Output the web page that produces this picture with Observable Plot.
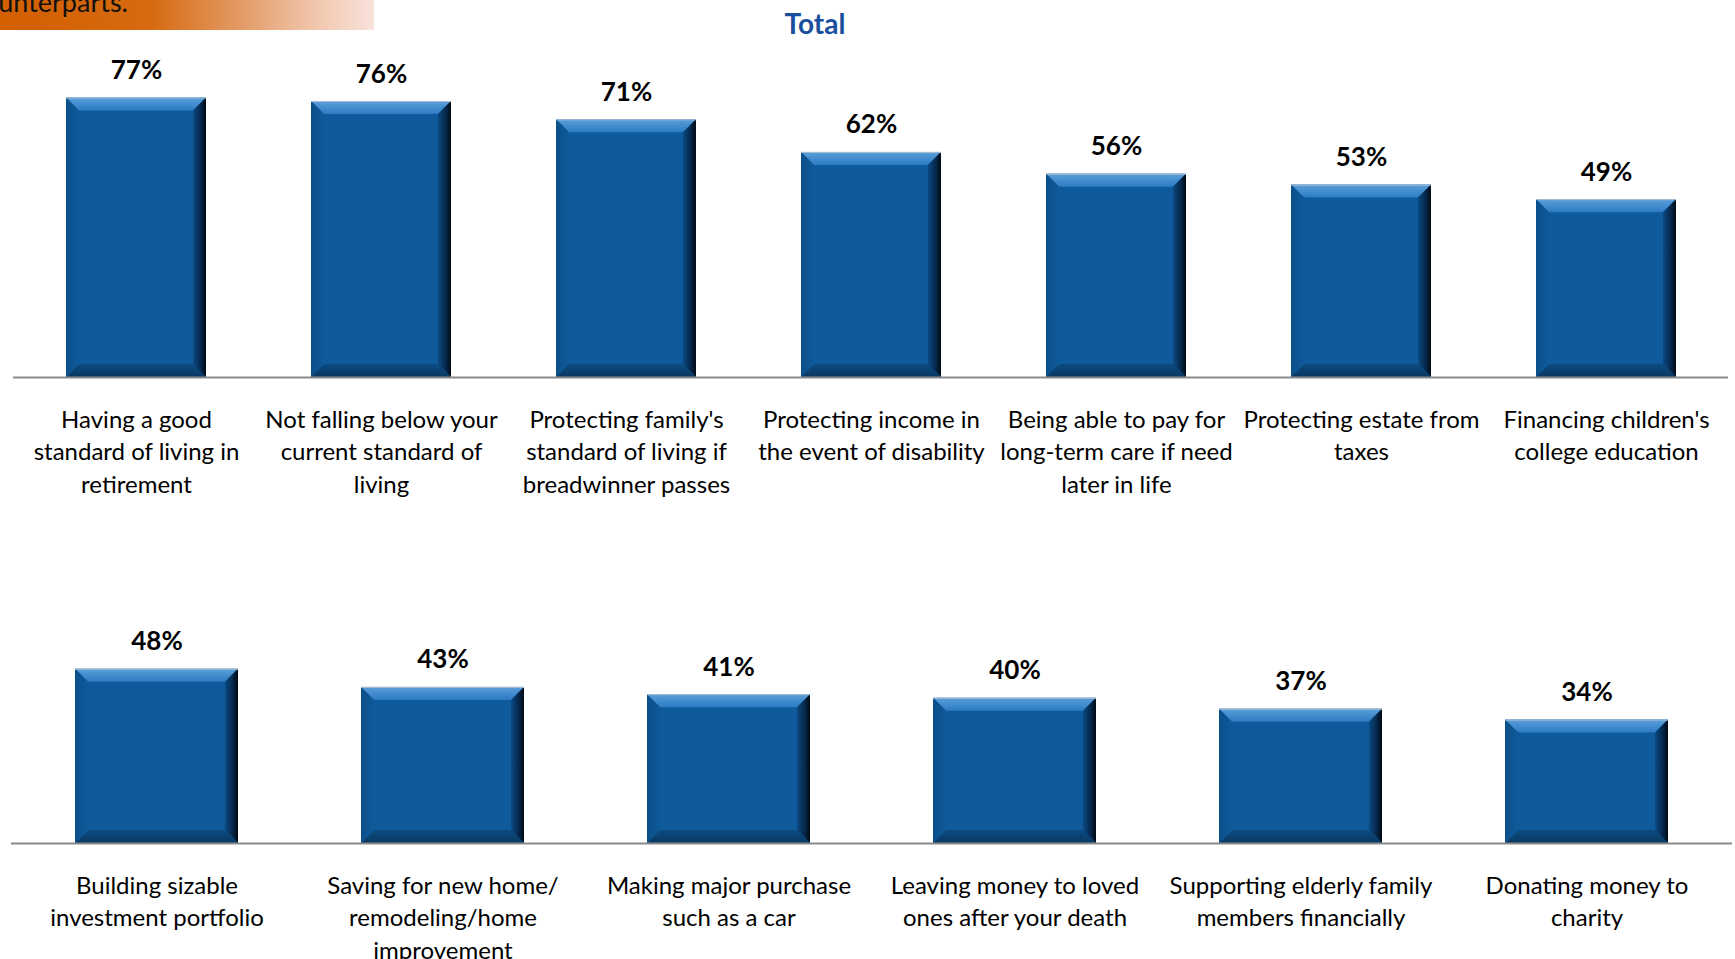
<!DOCTYPE html>
<html>
<head>
<meta charset="utf-8">
<script src="https://cdn.jsdelivr.net/npm/d3@7"></script>
<script src="https://cdn.jsdelivr.net/npm/@observablehq/plot@0.6"></script>
<style>
  html, body { margin: 0; padding: 0; background: #fff; }
  #page { position: relative; width: 1735px; height: 959px; overflow: hidden; font-family: Lato, "Open Sans", sans-serif; }
  #banner { position: absolute; left: 0; top: 0; width: 374px; height: 30px;
    background: linear-gradient(to right, #d35f00 0px, #d66a10 150px, #e39a66 240px, #f0c4a8 310px, #f9e2dc 374px); overflow: hidden; }
  #banner span { position: absolute; right: 246px; top: -12px; font-size: 27px; line-height: 27px; color: #111; white-space: nowrap; }
  #title { position: absolute; left: 0; top: 9px; width: 1630px; text-align: center; font-size: 28px; line-height: 28px; font-weight: bold; color: #1a4f9e; }
  .panel { position: absolute; left: 0; }
</style>
</head>
<body>
<div id="page">
  <div id="top" class="panel" style="top:0px"></div>
  <div id="bottom" class="panel" style="top:460px"></div>
  <div id="banner"><span>than their counterparts.</span></div>
  <div id="title">Total</div>
</div>
<script>
const topCategories = [
  "Having a good\nstandard of living in\nretirement",
  "Not falling below your\ncurrent standard of\nliving",
  "Protecting family's\nstandard of living if\nbreadwinner passes",
  "Protecting income in\nthe event of disability",
  "Being able to pay for\nlong-term care if need\nlater in life",
  "Protecting estate from\ntaxes",
  "Financing children's\ncollege education"
];
const topValues = [77, 76, 71, 62, 56, 53, 49];

const bottomCategories = [
  "Building sizable\ninvestment portfolio",
  "Saving for new home/\nremodeling/home\nimprovement",
  "Making major purchase\nsuch as a car",
  "Leaving money to loved\nones after your death",
  "Supporting elderly family\nmembers financially",
  "Donating money to\ncharity"
];
const bottomValues = [48, 43, 41, 40, 37, 34];

const FONT = "Lato, 'Open Sans', sans-serif";

function bevel(svg, prefix) {
  const ns = "http://www.w3.org/2000/svg";
  const defs = document.createElementNS(ns, "defs");
  defs.innerHTML = `
    <linearGradient id="${prefix}top" x1="0" y1="0" x2="0" y2="1">
      <stop offset="0" stop-color="#5b9fda"/><stop offset="1" stop-color="#2c7bc2"/>
    </linearGradient>
    <linearGradient id="${prefix}right" x1="0" y1="0" x2="1" y2="0">
      <stop offset="0" stop-color="#0a4a82"/><stop offset="0.6" stop-color="#06274a"/><stop offset="1" stop-color="#010a14"/>
    </linearGradient>
    <linearGradient id="${prefix}bot" x1="0" y1="0" x2="0" y2="1">
      <stop offset="0" stop-color="#0b4b80"/><stop offset="1" stop-color="#0a3862"/>
    </linearGradient>
    <linearGradient id="${prefix}left" x1="0" y1="0" x2="1" y2="0">
      <stop offset="0" stop-color="#0b4f88"/><stop offset="1" stop-color="#0e5a9b"/>
    </linearGradient>`;
  svg.insertBefore(defs, svg.firstChild);
  const rects = svg.querySelectorAll('g[aria-label="bar"] rect');
  const b = 13;
  rects.forEach(r => {
    const x = +r.getAttribute("x"), y = +r.getAttribute("y");
    const w = +r.getAttribute("width"), h = +r.getAttribute("height");
    const g = r.parentNode;
    const polys = [
      [[x, y], [x + w, y], [x + w - b, y + b], [x + b, y + b], `url(#${prefix}top)`],
      [[x + w - b, y + b], [x + w, y], [x + w, y + h], [x + w - b, y + h - b], `url(#${prefix}right)`],
      [[x + b, y + h - b], [x + w - b, y + h - b], [x + w, y + h], [x, y + h], `url(#${prefix}bot)`],
      [[x, y], [x + b, y + b], [x + b, y + h - b], [x, y + h], `url(#${prefix}left)`]
    ];
    polys.forEach(p => {
      const el = document.createElementNS(ns, "polygon");
      el.setAttribute("points", p.slice(0, 4).map(q => q.join(",")).join(" "));
      el.setAttribute("fill", p[4]);
      g.appendChild(el);
    });
    const edge = document.createElementNS(ns, "line");
    edge.setAttribute("x1", x); edge.setAttribute("x2", x + w);
    edge.setAttribute("y1", y + 0.5); edge.setAttribute("y2", y + 0.5);
    edge.setAttribute("stroke", "#a9bfd2"); edge.setAttribute("stroke-width", 1);
    g.appendChild(edge);
  });
}

function panel(categories, values, o) {
  const data = categories.map((c, i) => ({cat: c, value: values[i]}));
  const svg = Plot.plot({
    width: 1735,
    height: o.height,
    marginTop: o.marginTop,
    marginBottom: o.marginBottom,
    marginLeft: o.marginLeft,
    marginRight: o.marginRight,
    style: {background: "transparent", overflow: "visible"},
    x: {domain: categories, paddingInner: 0.43, paddingOuter: 0.215, axis: null},
    y: {domain: [0, 100], axis: null},
    marks: [
      Plot.barY(data, {x: "cat", y: "value", fill: "#0e5a9b"}),
      Plot.ruleY([0], {stroke: "#8a8a8a", strokeWidth: 2}),
      Plot.text(data, {x: "cat", y: "value", text: d => d.value + "%", lineAnchor: "bottom", dy: -19,
        fontSize: 26, fontWeight: "bold", fontFamily: FONT, fill: "#000"}),
      Plot.text(data, {x: "cat", y: () => 0, text: "cat", lineAnchor: "top", dy: o.labelDy,
        fontSize: 24, lineHeight: 1.36, fontFamily: FONT, fill: "#000"})
    ]
  });
  bevel(svg, o.prefix);
  return svg;
}

document.getElementById("top").appendChild(panel(topCategories, topValues,
  {height: 520, marginTop: 14, marginBottom: 143, marginLeft: 13, marginRight: 7, labelDy: 27, prefix: "t"}));
document.getElementById("bottom").appendChild(panel(bottomCategories, bottomValues,
  {height: 499, marginTop: 20, marginBottom: 116, marginLeft: 11, marginRight: 3, labelDy: 27, prefix: "b"}));
</script>
</body>
</html>
